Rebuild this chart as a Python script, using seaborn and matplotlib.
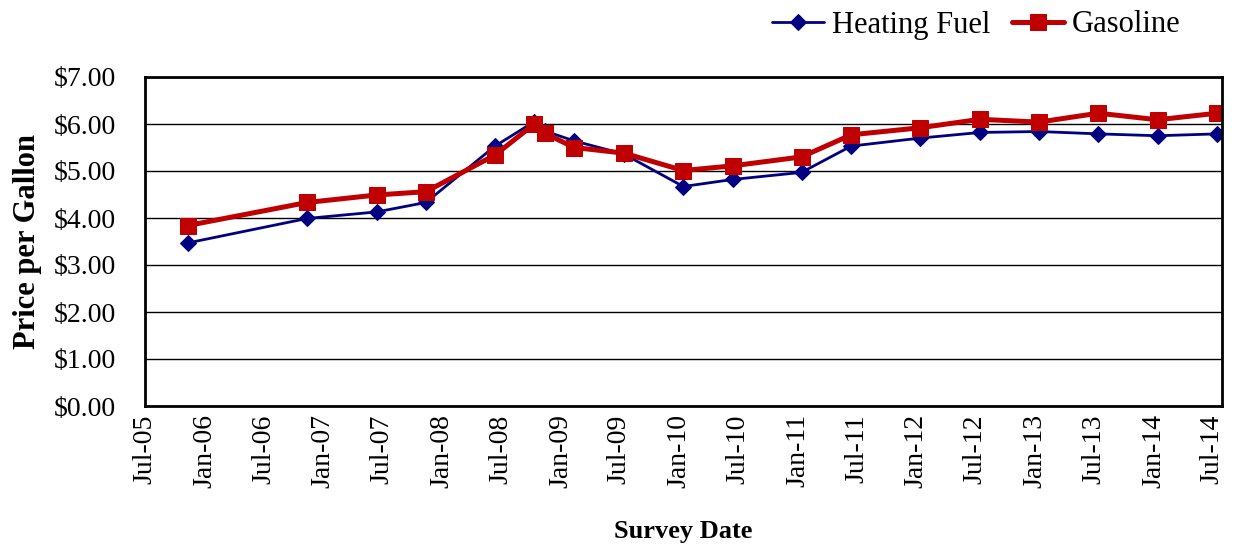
import pandas as pd
import matplotlib
matplotlib.use("Agg")
import matplotlib.pyplot as plt
import matplotlib.dates as mdates
import seaborn as sns

survey_dates = [
    "2005-11-10", "2006-11-12", "2007-06-15", "2007-11-13", "2008-06-13",
    "2008-10-12", "2008-11-14", "2009-02-12", "2009-07-15", "2010-01-14",
    "2010-06-15", "2011-01-13", "2011-06-15", "2012-01-13", "2012-07-16",
    "2013-01-13", "2013-07-15", "2014-01-14", "2014-07-16",
]
heating_fuel = [3.47, 3.99, 4.13, 4.33, 5.53, 6.05, 5.85, 5.64, 5.36, 4.67,
                4.82, 4.97, 5.53, 5.70, 5.82, 5.84, 5.79, 5.75, 5.79]
gasoline = [3.84, 4.33, 4.49, 4.56, 5.34, 6.00, 5.80, 5.50, 5.38, 5.01,
            5.11, 5.30, 5.77, 5.92, 6.10, 6.04, 6.23, 6.09, 6.23]

df = pd.DataFrame({
    "date": pd.to_datetime(survey_dates),
    "Heating Fuel": heating_fuel,
    "Gasoline": gasoline,
})

sns.set_style("white")
plt.rcParams["font.family"] = ["Liberation Serif", "DejaVu Serif"]
plt.rcParams["text.color"] = "black"
plt.rcParams["axes.labelcolor"] = "black"
plt.rcParams["xtick.color"] = "black"
plt.rcParams["ytick.color"] = "black"

fig = plt.figure(figsize=(12.37, 5.44), dpi=100)
ax = fig.add_axes([145 / 1237, 1 - 406 / 544, (1222 - 145) / 1237, (406 - 77) / 544])

sns.lineplot(data=df, x="date", y="Heating Fuel", ax=ax, color="#000080",
             linewidth=2, marker="D", markersize=8.5, markeredgecolor="#000080",
             label="Heating Fuel")
sns.lineplot(data=df, x="date", y="Gasoline", ax=ax, color="#C00000",
             linewidth=3.6, marker="s", markersize=11.5, markeredgecolor="#C00000",
             label="Gasoline")

ax.set_ylim(0, 7)
ax.set_yticks(range(0, 8))
ax.set_yticklabels([f"${v:.2f}" for v in range(0, 8)])
ax.set_xlim(pd.Timestamp("2005-07-01"), pd.Timestamp("2014-07-31"))
ax.xaxis.set_major_locator(mdates.MonthLocator(bymonth=[1, 7]))
ax.xaxis.set_major_formatter(mdates.DateFormatter("%b-%y"))

ax.yaxis.grid(True, color="black", linewidth=1)
ax.set_axisbelow(True)
for s in ax.spines.values():
    s.set_color("black")
    s.set_linewidth(2)

ax.tick_params(axis="x", direction="out", length=6, width=1.2, color="black",
               labelsize=20, labelrotation=90, pad=0)
ax.tick_params(axis="y", direction="out", length=7, width=1.2, color="black",
               labelsize=20, pad=14)
for lbl in ax.get_xticklabels():
    lbl.set_va("top")

ax.set_xlabel("Survey Date", fontsize=19, fontweight="bold", labelpad=23)
ax.set_ylabel("Price per Gallon", fontsize=22, fontweight="bold", labelpad=8)

ax.legend(loc="center right", bbox_to_anchor=(1180 / 1237, 1 - 25 / 544),
          bbox_transform=fig.transFigure, ncol=2, frameon=False, fontsize=22,
          handlelength=1.7, handletextpad=0.25, columnspacing=0.7,
          borderpad=0, borderaxespad=0)

fig.savefig("out.png", dpi=100)
